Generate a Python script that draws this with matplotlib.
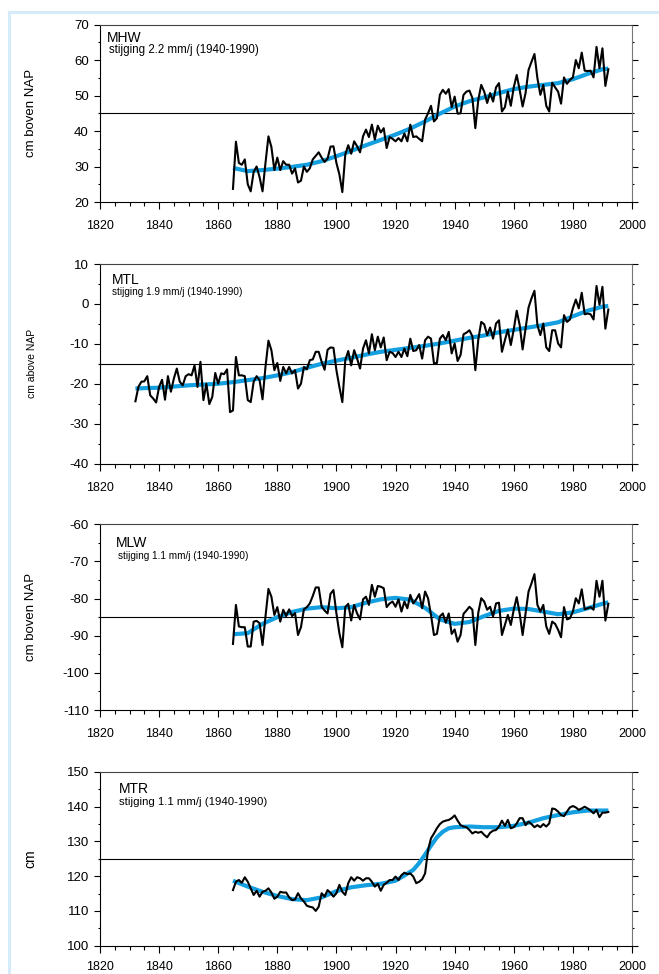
import numpy as np
import matplotlib
matplotlib.use("Agg")
import matplotlib.pyplot as plt
from matplotlib.lines import Line2D
from matplotlib.ticker import MultipleLocator

plt.rcParams['font.family'] = ['Liberation Sans', 'DejaVu Sans']
plt.rcParams['axes.unicode_minus'] = False

# yearly means, cm relative to NAP
mhw_start = 1865
mhw = [23.7, 37.0, 31.0, 30.5, 32.0, 25.0, 23.0, 28.5, 30.0, 27.0,
       23.0, 31.0, 38.5, 35.5, 29.0, 32.5, 29.0, 31.5, 30.5, 30.5,
       28.0, 29.5, 25.5, 26.0, 30.0, 28.5, 29.5, 32.0, 33.0, 34.0,
       32.5, 31.3, 32.2, 35.6, 35.7, 31.0, 27.8, 22.8, 33.4, 36.0,
       33.6, 37.1, 35.7, 34.0, 38.5, 40.4, 38.3, 41.8, 37.6, 41.5,
       39.6, 40.8, 35.2, 38.3, 37.8, 37.1, 38.0, 37.1, 39.3, 37.1,
       41.8, 38.3, 38.5, 37.8, 37.1, 43.2, 45.0, 47.1, 42.7, 43.6,
       50.2, 51.6, 50.5, 51.8, 46.7, 49.7, 44.9, 45.0, 50.2, 51.1,
       51.4, 49.3, 40.8, 48.8, 53.0, 51.1, 47.9, 50.7, 48.3, 52.3,
       53.5, 45.5, 46.7, 51.1, 47.1, 52.3, 55.8, 51.6, 46.9, 50.7,
       57.2, 59.5, 61.7, 54.9, 50.2, 53.0, 47.1, 45.5, 53.6, 52.3,
       51.1, 47.7, 55.1, 53.3, 54.4, 55.1, 60.0, 57.7, 62.1, 57.0,
       56.9, 57.0, 55.1, 63.7, 57.7, 63.3, 52.7, 57.4]
mhw_trend_years = [1865, 1870, 1875, 1880, 1885, 1890, 1895, 1900, 1905, 1910,
                   1915, 1920, 1925, 1930, 1935, 1940, 1945, 1950, 1955, 1960,
                   1965, 1970, 1975, 1980, 1985, 1990, 1992]
mhw_trend = [29.6, 28.7, 29.0, 29.4, 29.9, 30.5, 31.5, 32.9, 34.4, 36.0,
             37.5, 39.0, 40.7, 42.7, 44.9, 46.9, 48.4, 49.5, 50.7, 51.8,
             52.5, 53.0, 53.5, 54.6, 56.1, 57.4, 57.6]

mtl_start = 1832
mtl = [-24.4, -20.8, -19.5, -19.4, -18.1, -22.9, -23.7, -24.7,
       -20.8, -19.0, -24.0, -18.1, -22.0, -18.7, -16.2, -19.5, -20.4, -18.1,
       -17.6, -17.9, -15.4, -20.8, -14.5, -24.1, -20.0, -25.1, -23.3, -17.3,
       -20.0, -17.4, -17.6, -16.4, -27.1, -26.7, -13.3, -17.9, -17.9, -18.1,
       -24.1, -24.6, -19.5, -18.1, -19.1, -23.9, -15.8, -9.2, -11.6, -16.6,
       -14.8, -19.3, -15.8, -17.4, -15.8, -17.4, -16.6, -21.2, -20.0, -15.8,
       -16.4, -14.1, -13.9, -12.0, -12.0, -14.5, -16.5, -11.5, -10.9, -11.0,
       -16.6, -20.8, -24.6, -14.1, -11.8, -15.4, -11.6, -13.7, -16.2, -11.2,
       -9.1, -12.4, -7.6, -11.6, -8.2, -10.9, -8.4, -14.1, -12.0, -12.3,
       -13.3, -12.0, -13.3, -11.2, -13.1, -8.7, -11.8, -11.6, -10.3, -13.7,
       -9.1, -8.2, -8.7, -14.9, -14.8, -8.7, -7.8, -9.1, -7.0, -12.4,
       -9.9, -14.3, -12.8, -7.6, -7.2, -6.6, -8.1, -16.6, -8.9, -4.5,
       -5.1, -7.8, -5.9, -8.7, -4.9, -4.1, -12.0, -9.1, -6.4, -10.3,
       -6.4, -1.7, -5.3, -11.4, -6.2, -0.9, 1.4, 3.3, -5.3, -7.8,
       -4.9, -10.9, -11.8, -6.6, -6.6, -9.9, -10.9, -2.8, -4.5, -3.9,
       -1.1, 1.1, -1.1, 2.8, -2.6, -2.4, -2.6, -3.9, 4.5, -0.2,
       4.3, -6.2, -1.4]
mtl_trend_years = [1832, 1835, 1840, 1845, 1850, 1855, 1860, 1865, 1870, 1875,
                   1880, 1885, 1890, 1895, 1900, 1905, 1910, 1915, 1920, 1925,
                   1930, 1935, 1940, 1945, 1950, 1955, 1960, 1965, 1970, 1975,
                   1980, 1985, 1990, 1992]
mtl_trend = [-21.2, -21.1, -21.0, -20.7, -20.4, -20.2, -20.0, -19.6, -19.1, -18.6,
             -17.9, -17.1, -16.0, -15.0, -14.2, -13.5, -12.7, -12.0, -11.5, -11.0,
             -10.5, -9.9, -9.2, -8.5, -7.9, -7.1, -6.5, -5.9, -5.3, -4.6,
             -3.1, -1.7, -0.7, -0.5]

mlw_start = 1865
mlw = [-92.2, -81.7, -87.5, -87.7, -87.7, -92.9, -92.9, -86.2, -86.0, -86.6,
       -92.5, -84.8, -77.4, -79.5, -84.4, -82.3, -86.2, -83.0, -84.7, -82.9,
       -84.7, -83.9, -89.8, -87.7, -82.9, -82.3, -81.3, -79.3, -77.0, -77.0,
       -82.2, -83.2, -84.0, -78.7, -77.7, -84.0, -89.3, -93.1, -82.3, -81.4,
       -85.9, -81.7, -84.0, -85.6, -80.2, -79.5, -81.7, -76.3, -79.5, -76.6,
       -76.8, -77.2, -82.3, -81.3, -80.8, -82.2, -80.2, -83.5, -80.8, -82.6,
       -79.0, -81.3, -80.2, -78.8, -82.6, -78.1, -79.9, -84.4, -89.8, -89.5,
       -84.8, -84.0, -86.5, -84.0, -89.5, -88.3, -91.6, -89.8, -84.1, -83.2,
       -82.2, -83.0, -92.5, -83.8, -79.9, -80.8, -83.0, -82.2, -84.8, -81.3,
       -81.1, -89.8, -87.1, -84.4, -87.1, -83.0, -79.6, -84.0, -89.8, -84.0,
       -78.1, -75.9, -73.4, -81.7, -83.5, -81.7, -87.5, -89.5, -86.2, -86.8,
       -88.4, -90.4, -82.3, -85.6, -85.3, -83.5, -79.9, -81.3, -77.5, -82.9,
       -82.6, -82.3, -83.0, -75.2, -79.5, -75.2, -85.9, -81.4]
mlw_trend_years = [1865, 1870, 1875, 1880, 1885, 1890, 1895, 1900, 1905, 1910,
                   1915, 1920, 1925, 1930, 1935, 1940, 1945, 1950, 1955, 1960,
                   1965, 1970, 1975, 1980, 1985, 1990, 1992]
mlw_trend = [-89.6, -89.3, -86.8, -85.0, -83.6, -82.7, -82.3, -82.6, -82.3, -81.1,
             -80.2, -79.8, -80.3, -82.5, -85.6, -86.8, -86.3, -84.7, -83.3, -82.7,
             -82.8, -83.5, -84.2, -83.7, -82.6, -81.4, -81.0]

mtr_start = 1865
mtr = [116.0, 118.4, 118.9, 118.1, 119.7, 118.4, 116.5, 114.6, 115.8, 114.1,
       115.5, 115.8, 116.5, 115.3, 113.5, 114.1, 115.5, 115.3, 115.3, 113.9,
       113.1, 113.3, 115.1, 113.6, 112.7, 111.5, 111.2, 111.0, 110.0, 111.2,
       115.1, 114.1, 116.0, 115.2, 114.1, 115.1, 117.5, 115.5, 114.6, 118.0,
       119.7, 118.7, 119.7, 119.4, 118.7, 119.4, 119.4, 118.4, 117.0, 117.8,
       115.8, 117.5, 118.1, 118.9, 118.9, 119.9, 118.9, 120.3, 121.0, 120.6,
       120.8, 119.9, 118.0, 118.4, 119.1, 120.8, 127.5, 130.9, 132.3, 133.8,
       135.0, 135.7, 136.0, 136.2, 136.7, 137.5, 136.0, 134.7, 134.3, 134.1,
       133.3, 132.3, 132.8, 132.5, 132.8, 131.9, 131.2, 132.5, 133.1, 133.3,
       134.3, 136.0, 134.5, 136.2, 133.8, 134.1, 135.2, 136.7, 136.7, 134.7,
       135.7, 135.0, 134.1, 134.7, 134.1, 135.0, 134.3, 135.2, 139.5, 139.3,
       138.6, 137.6, 137.3, 138.6, 139.8, 140.2, 139.8, 139.1, 139.5, 140.0,
       139.5, 138.9, 138.1, 139.1, 137.0, 138.3, 138.3, 138.5]
mtr_trend_years = [1865, 1870, 1875, 1880, 1885, 1890, 1895, 1900, 1905, 1910,
                   1915, 1920, 1923, 1926, 1928, 1930, 1932, 1934, 1936, 1938,
                   1940, 1945, 1950, 1955, 1960, 1965, 1970, 1975, 1980, 1985, 1992]
mtr_trend = [118.7, 117.0, 115.5, 114.3, 113.4, 113.1, 113.9, 115.7, 116.8, 117.4,
             117.8, 118.7, 120.2, 121.8, 123.8, 126.2, 128.8, 131.2, 132.8, 133.8,
             134.1, 134.3, 134.1, 134.1, 134.5, 135.4, 136.7, 137.6, 138.4, 138.9, 138.9]

panels = [
    dict(name='MHW', sub='stijging 2.2 mm/j (1940-1990)', start=mhw_start, vals=mhw,
         ty=mhw_trend_years, tv=mhw_trend, ylim=(20, 70), ref=45,
         ylabel='cm boven NAP', ylsize=9.5, subsize=8.3, xpad=8,
         rect=[0.1517, 0.7926, 0.8073, 0.1822], tpos=(0.013, 0.924), spos=(0.017, 0.856)),
    dict(name='MTL', sub='stijging 1.9 mm/j (1940-1990)', start=mtl_start, vals=mtl,
         ty=mtl_trend_years, tv=mtl_trend, ylim=(-40, 10), ref=-15,
         ylabel='cm above NAP', ylsize=7.5, subsize=7.2, xpad=8,
         rect=[0.1517, 0.5241, 0.8073, 0.2048], tpos=(0.023, 0.920), spos=(0.023, 0.860)),
    dict(name='MLW', sub='stijging 1.1 mm/j (1940-1990)', start=mlw_start, vals=mlw,
         ty=mlw_trend_years, tv=mlw_trend, ylim=(-110, -60), ref=-85,
         ylabel='cm boven NAP', ylsize=9.5, subsize=7.2, xpad=8,
         rect=[0.1517, 0.2710, 0.8073, 0.1907], tpos=(0.030, 0.899), spos=(0.034, 0.829)),
    dict(name='MTR', sub='stijging 1.1 mm/j (1940-1990)', start=mtr_start, vals=mtr,
         ty=mtr_trend_years, tv=mtr_trend, ylim=(100, 150), ref=125,
         ylabel='cm', ylsize=10, subsize=8.2, xpad=6,
         rect=[0.1517, 0.0291, 0.8073, 0.1783], tpos=(0.036, 0.902), spos=(0.036, 0.827)),
]

fig = plt.figure(figsize=(6.59, 9.74), dpi=100)

# light blue frame along the top and left edge
frame_col = '#d5ebf9'
fig.add_artist(Line2D([9 / 659, 1.0], [1 - 12 / 974] * 2, color=frame_col, lw=2.2,
                      transform=fig.transFigure))
fig.add_artist(Line2D([9 / 659] * 2, [0.0, 1 - 12 / 974], color=frame_col, lw=2.2,
                      transform=fig.transFigure))

for p in panels:
    ax = fig.add_axes(p['rect'])
    years = p['start'] + np.arange(len(p['vals']))
    ax.axhline(p['ref'], color='black', lw=0.8, zorder=1)
    ax.plot(p['ty'], p['tv'], color='#14a0e0', lw=3.0, solid_capstyle='butt', zorder=2)
    ax.plot(years, p['vals'], color='black', lw=1.5, zorder=3)

    ax.set_xlim(1820, 2000)
    ax.set_ylim(*p['ylim'])
    ax.xaxis.set_major_locator(MultipleLocator(20))
    ax.xaxis.set_minor_locator(MultipleLocator(5))
    ax.yaxis.set_major_locator(MultipleLocator(10))
    ax.yaxis.set_minor_locator(MultipleLocator(5))

    ax.tick_params(axis='x', which='major', direction='out', length=5, width=0.8,
                   labelsize=9, pad=p['xpad'], top=False)
    ax.tick_params(axis='x', which='minor', direction='out', length=3, width=0.8, top=False)
    ax.tick_params(axis='y', which='major', direction='out', length=4, width=0.8,
                   labelsize=9.5, pad=4, right=True, labelright=False)
    ax.tick_params(axis='y', which='minor', direction='out', length=1.5, width=0.8,
                   right=True)

    for side in ('left', 'bottom'):
        ax.spines[side].set_color('black')
        ax.spines[side].set_linewidth(0.8)
    ax.spines['top'].set_color('#444444')
    ax.spines['top'].set_linewidth(0.8)
    ax.spines['right'].set_color('#777777')
    ax.spines['right'].set_linewidth(0.8)

    ax.set_ylabel(p['ylabel'], fontsize=p['ylsize'])
    ax.yaxis.set_label_coords(-0.118, 0.5)

    ax.text(p['tpos'][0], p['tpos'][1], p['name'], transform=ax.transAxes,
            fontsize=10, va='center', ha='left')
    ax.text(p['spos'][0], p['spos'][1], p['sub'], transform=ax.transAxes,
            fontsize=p['subsize'], va='center', ha='left')

fig.savefig('out.png', dpi=100)
